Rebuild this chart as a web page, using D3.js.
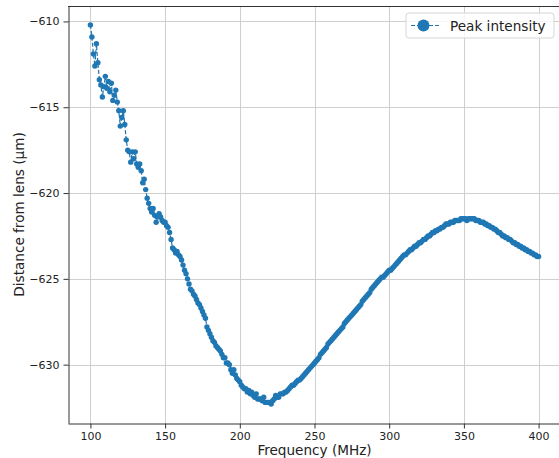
<html>
<head>
<meta charset="UTF-8">
<style>
body { margin: 0; background: #fff; }
text { font-family: "DejaVu Sans", sans-serif; fill: #222; }
.tick text { font-size: 11px; }
.axis-label { font-size: 13.6px; }
.grid line { stroke: #cfcfcf; stroke-width: 1; }
</style>
</head>
<body>
<svg height="458" width="559" id="container"></svg>
<script src="https://cdn.jsdelivr.net/npm/d3@7/dist/d3.min.js" charset="UTF-8"></script>
<script>
// sweep: 100 MHz to 400 MHz, 1 MHz per point
var freqStart = 100;
var freqStep = 1;
var seriesName = "Peak intensity";
var xTicks = [100, 150, 200, 250, 300, 350, 400];
var yTicks = [-630, -625, -620, -615, -610];

// distance from lens (µm), 10 per row
var distance = [
  -610.2, -610.9, -611.9, -612.6, -611.3, -612.4, -613.4, -613.7, -614.4, -613.8, // 100
  -613.2, -613.9, -613.5, -614.1, -613.6, -614.6, -614.3, -614.0, -614.7, -615.2, // 110
  -616.1, -615.6, -615.2, -616.0, -616.9, -617.5, -617.6, -618.2, -617.6, -618.0, // 120
  -617.6, -618.3, -618.5, -618.3, -618.7, -619.4, -619.2, -619.8, -620.3, -620.6, // 130
  -620.9, -621.1, -620.9, -621.3, -621.7, -621.4, -621.2, -621.4, -621.6, -621.7, // 140
  -621.7, -621.9, -622.0, -622.3, -622.7, -623.2, -623.3, -623.5, -623.4, -623.6, // 150
  -623.7, -623.9, -624.2, -624.5, -624.7, -625.0, -625.3, -625.6, -625.7, -625.9, // 160
  -626.0, -626.2, -626.4, -626.5, -626.7, -626.9, -627.1, -627.3, -627.8, -628.0, // 170
  -628.2, -628.4, -628.6, -628.7, -628.9, -629.0, -629.1, -629.2, -629.4, -629.6, // 180
  -629.6, -629.9, -629.9, -630.0, -630.3, -630.5, -630.3, -630.6, -630.8, -630.9, // 190
  -631.0, -631.2, -631.3, -631.4, -631.4, -631.6, -631.5, -631.7, -631.6, -631.8, // 200
  -631.9, -631.7, -632.0, -632.0, -632.0, -632.1, -631.9, -632.2, -632.2, -632.2, // 210
  -632.2, -632.3, -632.1, -632.0, -631.8, -631.9, -631.9, -631.7, -631.7, -631.7, // 220
  -631.6, -631.6, -631.5, -631.4, -631.3, -631.2, -631.2, -631.1, -631.0, -630.9, // 230
  -630.9, -630.8, -630.7, -630.6, -630.5, -630.4, -630.3, -630.2, -630.1, -630.0, // 240
  -629.9, -629.8, -629.7, -629.6, -629.4, -629.3, -629.2, -629.1, -629.0, -628.8, // 250
  -628.7, -628.6, -628.5, -628.4, -628.3, -628.2, -628.1, -628.0, -627.9, -627.8, // 260
  -627.6, -627.5, -627.4, -627.3, -627.2, -627.1, -627.0, -626.9, -626.8, -626.7, // 270
  -626.6, -626.5, -626.3, -626.2, -626.1, -626.0, -625.9, -625.8, -625.6, -625.5, // 280
  -625.4, -625.3, -625.2, -625.1, -625.0, -624.9, -624.9, -624.8, -624.7, -624.6, // 290
  -624.5, -624.5, -624.4, -624.3, -624.2, -624.1, -624.0, -623.9, -623.8, -623.7, // 300
  -623.6, -623.6, -623.5, -623.4, -623.3, -623.3, -623.2, -623.1, -623.1, -623.0, // 310
  -622.9, -622.9, -622.8, -622.7, -622.7, -622.6, -622.5, -622.5, -622.4, -622.3, // 320
  -622.3, -622.2, -622.2, -622.1, -622.1, -622.0, -622.0, -621.9, -621.8, -621.8, // 330
  -621.8, -621.7, -621.7, -621.7, -621.6, -621.6, -621.6, -621.6, -621.5, -621.5, // 340
  -621.5, -621.5, -621.6, -621.5, -621.5, -621.5, -621.5, -621.5, -621.6, -621.6, // 350
  -621.6, -621.7, -621.7, -621.7, -621.8, -621.8, -621.9, -621.9, -622.0, -622.0, // 360
  -622.1, -622.1, -622.2, -622.3, -622.3, -622.4, -622.5, -622.5, -622.6, -622.6, // 370
  -622.7, -622.7, -622.8, -622.9, -622.9, -623.0, -623.0, -623.1, -623.1, -623.2, // 380
  -623.2, -623.3, -623.3, -623.4, -623.4, -623.5, -623.5, -623.6, -623.6, -623.7, // 390
  -623.7                                                                          // 400
];

var color = "#1f77b4";
var svg = d3.select("#container");
var margin = {left: 68, top: 6, right: 561, bottom: 423};

var points = distance.map(function(v, i) {
  return {f: freqStart + i * freqStep, d: v};
});

// scales, matplotlib style 5% padding
var x = d3.scaleLinear().domain([85, 415]).range([margin.left, margin.right]);
var y = d3.scaleLinear().domain([-633.4, -609.1]).range([margin.bottom, margin.top]);

// grid
var grid = svg.append("g").attr("class", "grid");
grid.selectAll(".gx").data(xTicks).enter().append("line")
  .attr("x1", d => Math.round(x(d)) + 0.5).attr("x2", d => Math.round(x(d)) + 0.5)
  .attr("y1", margin.top).attr("y2", margin.bottom);
grid.selectAll(".gy").data(yTicks).enter().append("line")
  .attr("y1", d => Math.round(y(d)) + 0.5).attr("y2", d => Math.round(y(d)) + 0.5)
  .attr("x1", margin.left).attr("x2", margin.right);

// axes
var xAxis = svg.append("g")
  .attr("transform", "translate(0," + (margin.bottom + 0.5) + ")")
  .call(d3.axisBottom(x).tickValues(xTicks).tickSize(5).tickSizeOuter(0).tickPadding(4)
    .tickFormat(d3.format("d")));
var yAxis = svg.append("g")
  .attr("transform", "translate(" + (margin.left + 0.5) + ",0)")
  .call(d3.axisLeft(y).tickValues(yTicks).tickSize(5).tickSizeOuter(0).tickPadding(4)
    .tickFormat(d => "\u2212" + Math.abs(d)));
[xAxis, yAxis].forEach(function(a) {
  a.select(".domain").attr("stroke", "#333");
  a.selectAll(".tick line").attr("stroke", "#333");
  a.selectAll(".tick text").attr("fill", "#222").style("font-family", "DejaVu Sans");
});
svg.append("line").attr("x1", margin.left).attr("x2", margin.right)
  .attr("y1", margin.top + 0.5).attr("y2", margin.top + 0.5).attr("stroke", "#333");

// series: dashed line with small dots
var line = d3.line().x(d => x(d.f)).y(d => y(d.d));
svg.append("path").datum(points)
  .attr("d", line)
  .attr("fill", "none")
  .attr("stroke", color)
  .attr("stroke-width", 1.2)
  .attr("stroke-dasharray", "4,2");
svg.append("g").selectAll("circle").data(points).enter().append("circle")
  .attr("cx", d => x(d.f)).attr("cy", d => y(d.d))
  .attr("r", 2.7)
  .attr("fill", color);

// axis labels
svg.append("text").attr("class", "axis-label")
  .attr("x", (margin.left + margin.right) / 2).attr("y", 455)
  .attr("text-anchor", "middle")
  .text("Frequency (MHz)");
svg.append("text").attr("class", "axis-label")
  .attr("transform", "translate(24," + (margin.top + margin.bottom) / 2 + ") rotate(-90)")
  .attr("text-anchor", "middle")
  .text("Distance from lens (\u03bcm)");

// legend
var lg = svg.append("g").attr("transform", "translate(406,13)");
lg.append("rect").attr("width", 148).attr("height", 25).attr("rx", 3)
  .attr("fill", "#fff").attr("fill-opacity", 0.8).attr("stroke", "#d5d5d5");
lg.append("line").attr("x1", 5).attr("x2", 34).attr("y1", 12.5).attr("y2", 12.5)
  .attr("stroke", color).attr("stroke-width", 1.2).attr("stroke-dasharray", "4,2");
lg.append("circle").attr("cx", 17.5).attr("cy", 12.5).attr("r", 6).attr("fill", color);
lg.append("text").attr("x", 44).attr("y", 17.5).style("font-size", "13.6px").text(seriesName);
</script>
</body>
</html>
